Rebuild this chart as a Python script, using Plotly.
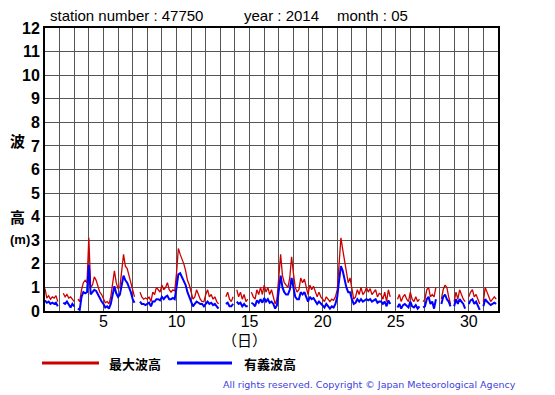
import plotly.graph_objects as go

# ---- data (3-hourly readings, None = missing) ----
day_numbers = list(range(1, 32))
hours = [0, 3, 6, 9, 12, 15, 18, 21]

max_wave = [
    [0.95, 0.55, 0.65, 0.5, 0.6, 0.55, 0.65, 0.4],
    [None, None, 0.75, 0.6, 0.7, 0.55, 0.6, 0.5],
    [0.4, None, 0.5, 0.4, 0.9, 1.2, 1.3, 1.2],
    [3.1, 1.0, 1.1, 1.45, 1.3, 1.0, 0.8, 0.7],
    [0.5, 0.35, 0.4, 0.3, 0.6, 1.2, 1.7, 1.2],
    [0.95, 1.0, 1.7, 2.4, 1.9, 1.8, 1.5, 1.2],
    [0.9, 0.6, None, None, 0.8, 0.6, 0.5, 0.55],
    [0.5, 0.6, 0.4, 0.8, 0.7, 1.0, 0.9, 0.8],
    [1.1, 0.9, 1.0, 1.2, 0.9, 0.8, 0.9, 0.85],
    [1.6, 2.65, 2.4, 2.2, 2.0, 1.7, 1.3, 1.1],
    [0.8, 0.5, 0.6, 0.9, 0.7, 0.5, 0.4, 0.4],
    [0.7, 0.9, 0.6, 0.7, 0.5, 0.6, 0.4, 0.3],
    [None, 0.5, None, 0.6, 0.8, 0.5, 0.4, 0.6],
    [None, 0.9, 0.6, 0.8, 0.5, 0.7, 0.4, 0.5],
    [None, 0.8, 0.6, 0.5, 0.9, 0.7, 1.0, 0.7],
    [1.1, 0.8, 1.0, 0.7, 0.9, 0.6, 0.3, 0.5],
    [1.3, 2.4, 1.5, 1.2, 1.1, 1.0, 1.4, 2.3],
    [1.6, 1.0, 0.8, 0.9, 1.4, 1.2, 1.35, 1.0],
    [0.7, 1.1, 0.9, 1.05, 0.8, 0.6, 0.8, 0.6],
    [0.5, 0.4, 0.6, 0.5, 0.4, 0.5, 0.45, 0.6],
    [0.9, 2.0, 3.1, 2.6, 2.1, 1.5, 1.2, 1.4],
    [0.9, 0.5, 0.6, 0.9, 0.7, 1.0, 0.7, 0.8],
    [1.0, 0.8, 0.95, 0.7, 0.8, 0.9, 0.6, 0.75],
    [0.7, 0.5, 0.8, 0.4, 0.9, 0.6, None, None],
    [None, 0.5, 0.7, 0.4, 0.6, 0.7, 0.5, 0.4],
    [0.8, 0.5, 0.4, 0.6, 0.4, 0.5, None, 0.4],
    [0.5, 0.9, 1.0, 0.6, 0.7, 0.6, 1.0, None],
    [None, 0.5, 0.9, 1.1, 1.0, 0.6, 0.3, None],
    [0.4, 0.8, 0.5, 0.9, 0.7, 0.5, 0.4, None],
    [0.6, 0.8, 0.9, 0.6, 0.7, 0.5, 0.3, None],
    [0.4, 1.0, 0.8, 0.6, 0.4, 0.5, 0.6, 0.5],
]

sig_wave = [
    [0.45, 0.35, 0.4, 0.3, 0.35, 0.3, 0.35, 0.2],
    [None, None, 0.35, 0.3, 0.4, 0.25, 0.15, 0.3],
    [0.2, None, 0.1, 0.05, 0.6, 0.8, 0.75, 0.8],
    [1.95, 0.7, 0.8, 0.9, 0.85, 0.7, 0.5, 0.4],
    [0.3, 0.15, 0.2, 0.1, 0.3, 0.7, 1.05, 0.75],
    [0.6, 0.7, 1.1, 1.5, 1.3, 1.2, 1.0, 0.8],
    [0.5, 0.35, None, None, 0.4, 0.3, 0.3, 0.25],
    [0.3, 0.35, 0.2, 0.4, 0.4, 0.5, 0.5, 0.45],
    [0.6, 0.5, 0.6, 0.65, 0.5, 0.5, 0.55, 0.5],
    [1.0, 1.55, 1.6, 1.45, 1.3, 1.1, 0.8, 0.6],
    [0.4, 0.2, 0.3, 0.4, 0.35, 0.3, 0.3, 0.2],
    [0.3, 0.4, 0.3, 0.35, 0.25, 0.3, 0.2, 0.1],
    [None, 0.3, None, 0.3, 0.35, 0.2, 0.2, 0.3],
    [None, 0.4, 0.3, 0.35, 0.2, 0.3, 0.2, 0.2],
    [None, 0.35, 0.3, 0.2, 0.45, 0.35, 0.5, 0.35],
    [0.55, 0.4, 0.5, 0.35, 0.4, 0.3, 0.1, 0.25],
    [0.9, 1.5, 1.0, 0.8, 0.7, 0.7, 0.9, 1.4],
    [1.0, 0.6, 0.5, 0.5, 0.8, 0.7, 0.8, 0.6],
    [0.4, 0.6, 0.5, 0.55, 0.45, 0.3, 0.4, 0.3],
    [0.25, 0.15, 0.3, 0.2, 0.1, 0.2, 0.15, 0.3],
    [0.6, 1.3, 1.9, 1.7, 1.3, 1.0, 0.8, 0.8],
    [0.5, 0.3, 0.35, 0.5, 0.4, 0.5, 0.4, 0.45],
    [0.5, 0.45, 0.5, 0.4, 0.45, 0.5, 0.35, 0.4],
    [0.4, 0.3, 0.4, 0.2, 0.45, 0.3, None, None],
    [None, 0.15, 0.3, 0.1, 0.25, 0.3, 0.2, 0.15],
    [0.4, 0.2, 0.15, 0.25, 0.1, 0.2, None, 0.15],
    [0.2, 0.5, 0.6, 0.3, 0.4, 0.1, 0.5, None],
    [None, 0.3, 0.6, 0.7, 0.5, 0.4, 0.2, None],
    [0.2, 0.5, 0.3, 0.5, 0.4, 0.3, 0.1, None],
    [0.3, 0.45, 0.5, 0.3, 0.4, 0.2, 0.05, None],
    [0.2, 0.5, 0.4, 0.3, 0.25, 0.3, 0.35, 0.3],
]

x_tick_vals = list(range(1, 33))
x_tick_labels = [str(d) if d % 5 == 0 else "" for d in x_tick_vals]
y_tick_vals = list(range(0, 13))
y_tick_labels = [str(v) for v in y_tick_vals]

series_names = ["最大波高", "有義波高"]
title_parts = ["station number : 47750", "year : 2014", "month : 05"]

# ---- build time axis ----
times = []
max_vals = []
sig_vals = []
for i, d in enumerate(day_numbers):
    for j, h in enumerate(hours):
        times.append(d + h / 24.0)
        max_vals.append(max_wave[i][j])
        sig_vals.append(sig_wave[i][j])

RED = "#cc0000"
BLUE = "#0000ff"

fig = go.Figure()
fig.add_trace(go.Scatter(x=times, y=max_vals, mode="lines", name=series_names[0],
                         line=dict(color=RED, width=1.3), connectgaps=False))
fig.add_trace(go.Scatter(x=times, y=sig_vals, mode="lines", name=series_names[1],
                         line=dict(color=BLUE, width=2), connectgaps=False))

OFF = 8  # page body margin
W, H = 555 - OFF, 395 - OFF
L, T = 45 - OFF, 28 - OFF
R = W - (498 - OFF)
B = H - (311 - OFF)
pw, ph = W - L - R, H - T - B

def px(x):
    return (x - OFF - L) / pw

def py(y):
    return (H - B - (y - OFF)) / ph

fig.update_layout(
    width=W, height=H,
    margin=dict(l=L, r=R, t=T, b=B),
    paper_bgcolor="white", plot_bgcolor="white",
    showlegend=False,
    font=dict(family="Liberation Sans, Arial, sans-serif", color="black"),
    xaxis=dict(range=[1, 32], tickvals=x_tick_vals, ticktext=x_tick_labels,
               showgrid=True, gridcolor="#555555", gridwidth=1,
               showline=True, linecolor="black", linewidth=2, mirror=True,
               ticks="", zeroline=False, ticklabelstandoff=-5,
               tickfont=dict(size=16, family="Liberation Sans, Arial, sans-serif")),
    yaxis=dict(range=[0, 12], tickvals=y_tick_vals, ticktext=y_tick_labels,
               showgrid=True, gridcolor="#555555", gridwidth=1,
               showline=True, linecolor="black", linewidth=2, mirror=True,
               ticks="", zeroline=False,
               tickfont=dict(size=16, family="Liberation Sans, Arial, sans-serif", weight="bold")),
)

ann = []
for txt, xl in zip(title_parts, [48, 242, 335]):
    ann.append(dict(text=txt, x=px(xl), y=py(16), xref="paper", yref="paper",
                    xanchor="left", yanchor="middle", showarrow=False,
                    font=dict(size=15, family="Liberation Sans, Arial, sans-serif")))
cjk = "Noto Sans CJK JP, sans-serif"
ann.append(dict(text="<b>波</b>", x=px(8), y=py(140), xref="paper", yref="paper",
                xanchor="left", yanchor="middle", showarrow=False, font=dict(size=15, family=cjk)))
ann.append(dict(text="<b>高</b>", x=px(8), y=py(216), xref="paper", yref="paper",
                xanchor="left", yanchor="middle", showarrow=False, font=dict(size=15, family=cjk)))
ann.append(dict(text="<b>(m)</b>", x=px(8), y=py(239), xref="paper", yref="paper",
                xanchor="left", yanchor="middle", showarrow=False,
                font=dict(size=13, family="Liberation Sans, Arial, sans-serif")))
ann.append(dict(text="（日）", x=px(244), y=py(339), xref="paper", yref="paper",
                xanchor="center", yanchor="middle", showarrow=False, font=dict(size=15, family=cjk)))
ann.append(dict(text="<b>" + series_names[0] + "</b>", x=px(107), y=py(363), xref="paper", yref="paper",
                xanchor="left", yanchor="middle", showarrow=False, font=dict(size=13, family=cjk)))
ann.append(dict(text="<b>" + series_names[1] + "</b>", x=px(242), y=py(363), xref="paper", yref="paper",
                xanchor="left", yanchor="middle", showarrow=False, font=dict(size=13, family=cjk)))
ann.append(dict(text="All rights reserved. Copyright © Japan Meteorological Agency",
                x=px(518), y=py(384), xref="paper", yref="paper",
                xanchor="right", yanchor="middle", showarrow=False,
                font=dict(size=9.5, family="DejaVu Sans, sans-serif", color="#4040e0")))
fig.update_layout(annotations=ann)

fig.add_shape(type="line", xref="paper", yref="paper", x0=px(42), x1=px(99), y0=py(363), y1=py(363),
              line=dict(color=RED, width=3))
fig.add_shape(type="line", xref="paper", yref="paper", x0=px(177), x1=px(232), y0=py(363), y1=py(363),
              line=dict(color=BLUE, width=3))

fig.write_html("out.html")
